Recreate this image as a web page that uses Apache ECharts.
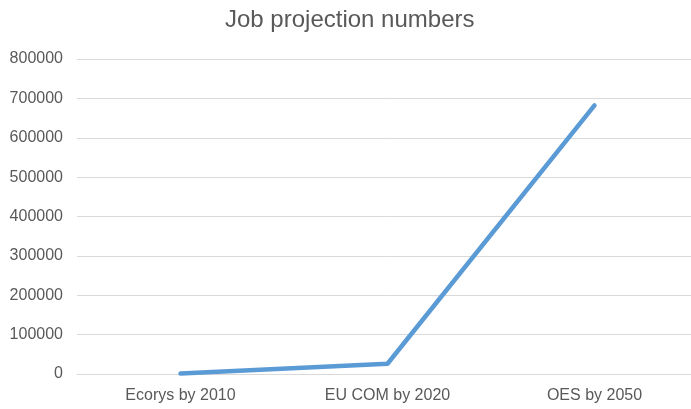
<!DOCTYPE html>
<html>
<head>
<meta charset="utf-8">
<script src="https://cdn.jsdelivr.net/npm/echarts@6/dist/echarts.min.js"></script>
<style>
	html, body { margin: 0; padding: 0; background: #fff; overflow: hidden; }
	/* 画布比窗口略宽，绘图区右侧被裁掉一点 */
	#chart { width: 698px; height: 409px; }
</style>
</head>
<body>
<div id="chart"></div>
<script>
// 数据
var categories = ["Ecorys by 2010", "EU COM by 2020", "OES by 2050"];
var jobValues = [1000, 26000, 682000];
var yTicks = { min: 0, max: 800000, interval: 100000 };

(function () {
	var myChart = echarts.init(document.getElementById("chart"));
	var textColor = "#595959";
	var font = "'Liberation Sans', 'Open Sans', sans-serif";
	var option = {
		animation: false,
		title: {
			text: "Job projection numbers",
			left: 220,
			top: 3,
			textStyle: {
				color: textColor,
				fontSize: 24,
				fontWeight: "normal",
				fontFamily: font
			}
		},
		grid: {
			left: 77,
			right: 0,
			top: 59,
			bottom: 35,
			containLabel: false
		},
		xAxis: {
			type: "category",
			data: categories,
			boundaryGap: true,
			axisTick: { show: false },
			axisLine: { lineStyle: { color: "#d9d9d9", width: 1 } },
			axisLabel: {
				color: textColor,
				fontSize: 16,
				fontFamily: font,
				margin: 14
			}
		},
		yAxis: {
			type: "value",
			min: yTicks.min,
			max: yTicks.max,
			interval: yTicks.interval,
			axisLine: { show: false },
			axisTick: { show: false },
			axisLabel: {
				color: textColor,
				fontSize: 16,
				fontFamily: font,
				margin: 14,
				formatter: function (v) { return String(v); }
			},
			splitLine: { lineStyle: { color: "#d9d9d9", width: 1 } }
		},
		series: [
			{
				type: "line",
				data: jobValues,
				showSymbol: false,
				symbol: "none",
				lineStyle: { color: "#5b9bd5", width: 4.5, cap: "round", join: "round" }
			}
		]
	};
	myChart.setOption(option);
	window.addEventListener("resize", function () {
		myChart.resize();
	});
})();
</script>
</body>
</html>
